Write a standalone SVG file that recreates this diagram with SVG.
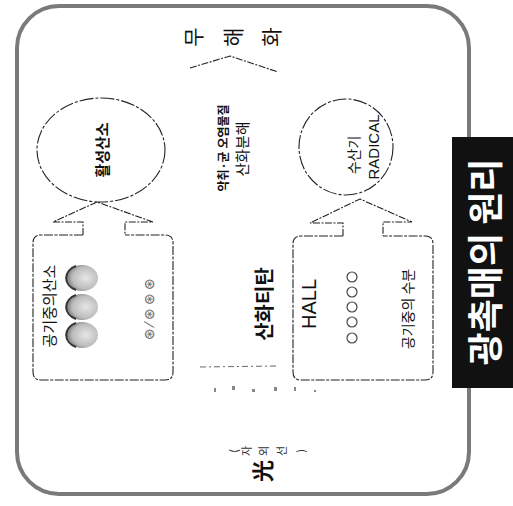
<svg xmlns="http://www.w3.org/2000/svg" width="513" height="506" viewBox="0 0 513 506">
<style>
.t{font-family:"Noto Sans CJK KR","Liberation Sans",sans-serif;fill:#111;text-anchor:middle;dominant-baseline:central}
.b{font-weight:bold}
.s{font-size:11px;fill:#333}
.ln{fill:none;stroke:#222;stroke-width:1.1;stroke-dasharray:7 1.5 2 1.5}
.bx{fill:none;stroke:#222;stroke-width:1.1;stroke-dasharray:9 1.5 3 1.5}
</style>
<defs>
<radialGradient id="g" cx="0.62" cy="0.5" r="0.6">
<stop offset="0" stop-color="#e6e6e6"/>
<stop offset="0.7" stop-color="#bdbdbd"/>
<stop offset="1" stop-color="#7a7a7a"/>
</radialGradient>
</defs>
<rect width="513" height="506" fill="#fff"/>
<g id="frame">
<rect x="17" y="6" width="452" height="488" rx="42" ry="42" fill="none" stroke="#7a7a7a" stroke-width="4"/>
</g>
<g id="title">
<rect x="452" y="137" width="61" height="251" fill="#111"/>
<text class="t b" x="483" y="262" transform="rotate(-90 483 262)" font-size="36" style="fill:#fff">광촉매의 원리</text>
</g>
<g id="top">
<text class="t" x="192" y="37" transform="rotate(-90 192 37)" font-size="21">무</text>
<text class="t" x="232" y="37" transform="rotate(-90 232 37)" font-size="21">해</text>
<text class="t" x="270" y="37" transform="rotate(-90 270 37)" font-size="21">화</text>
</g>
<g id="connectors">
<path class="ln" d="M190 68 L230 56 L278 72"/>
<path class="ln" d="M83 235 V222 H53 L97 202 L153 222 H125 V235"/>
<path class="ln" d="M343 236 V223 H310 L360 199 L412 222 H383 V236"/>
<line x1="200" y1="367" x2="278" y2="366" stroke="#666" stroke-width="1" stroke-dasharray="6 3 2 3"/>
<g fill="#888">
<rect x="214" y="388" width="2" height="4"/>
<rect x="232" y="386" width="3" height="4"/>
<rect x="252" y="389" width="3" height="3"/>
<rect x="274" y="387" width="3" height="4"/>
<rect x="294" y="387" width="2" height="4"/>
<rect x="314" y="390" width="2" height="2"/>
</g>
</g>
<g id="oxygen-active">
<ellipse cx="101" cy="150" rx="64" ry="52" fill="none" stroke="#222" stroke-width="1.1" stroke-dasharray="14 2 3 2"/>
<text class="t b" x="101" y="150" transform="rotate(-90 101 150)" font-size="15">활성산소</text>
</g>
<g id="radical">
<ellipse cx="346" cy="147" rx="47" ry="48" fill="none" stroke="#222" stroke-width="1.1" stroke-dasharray="14 2 3 2"/>
<text class="t" x="353" y="155" transform="rotate(-90 353 155)" font-size="14">수산기</text>
<text class="t" x="373" y="147" transform="rotate(-90 373 147)" font-size="15" style="font-family:'Liberation Sans Narrow','Liberation Sans',sans-serif">RADICAL</text>
</g>
<g id="center">
<text class="t b" x="222" y="148" transform="rotate(-90 222 148)" font-size="12">악취·균 오염물질</text>
<text class="t" x="241" y="149" transform="rotate(-90 241 149)" font-size="15">산화분해</text>
<text class="t b" x="263" y="304" transform="rotate(-90 263 304)" font-size="20">산화티탄</text>
</g>
<g id="left-box">
<path class="bx" d="M83 235 H41 Q33 235 33 243 V372 Q33 380 41 380 H165 Q173 380 173 372 V243 Q173 235 165 235 H125"/>
<text class="t" x="48" y="306" transform="rotate(-90 48 306)" font-size="15">공기중의산소</text>
<ellipse cx="82" cy="278" rx="16" ry="13" fill="url(#g)"/>
<ellipse cx="82" cy="307" rx="16" ry="13" fill="url(#g)"/>
<ellipse cx="82" cy="335" rx="16" ry="13" fill="url(#g)"/>
<path d="M76 266 A16 13 0 0 0 76 290 M76 295 A16 13 0 0 0 76 319 M76 323 A16 13 0 0 0 76 347" fill="none" stroke="#333" stroke-width="2"/>
<text class="t" x="148" y="309" transform="rotate(-90 148 309)" font-size="14" style="fill:#666">⊛ ⁄ ⊛ ⊛ ⊛</text>
</g>
<g id="right-box">
<path class="bx" d="M343 236 H301 Q293 236 293 244 V372 Q293 380 301 380 H425 Q433 380 433 372 V244 Q433 236 425 236 H383"/>
<text class="t" x="309" y="304" transform="rotate(-90 309 304)" font-size="20" style="font-family:'Liberation Sans Narrow','Liberation Sans',sans-serif">HALL</text>
<g fill="none" stroke="#444" stroke-width="1.2">
<circle cx="352" cy="277" r="5"/>
<circle cx="352" cy="292" r="5"/>
<circle cx="352" cy="307" r="5"/>
<circle cx="352" cy="322" r="5"/>
<circle cx="352" cy="338" r="5"/>
</g>
<text class="t" x="407" y="309" transform="rotate(-90 407 309)" font-size="14">공기중의 수분</text>
</g>
<g id="light">
<text class="t s" x="233" y="451" transform="rotate(-90 233 451)">(</text>
<text class="t s" x="246" y="451" transform="rotate(-90 246 451)">자</text>
<text class="t s" x="263" y="451" transform="rotate(-90 263 451)">외</text>
<text class="t s" x="281" y="451" transform="rotate(-90 281 451)">선</text>
<text class="t s" x="300" y="451" transform="rotate(-90 300 451)">)</text>
<text class="t" x="261" y="471" transform="rotate(-90 261 471)" font-size="22" font-weight="bold">光</text>
</g>
</svg>
